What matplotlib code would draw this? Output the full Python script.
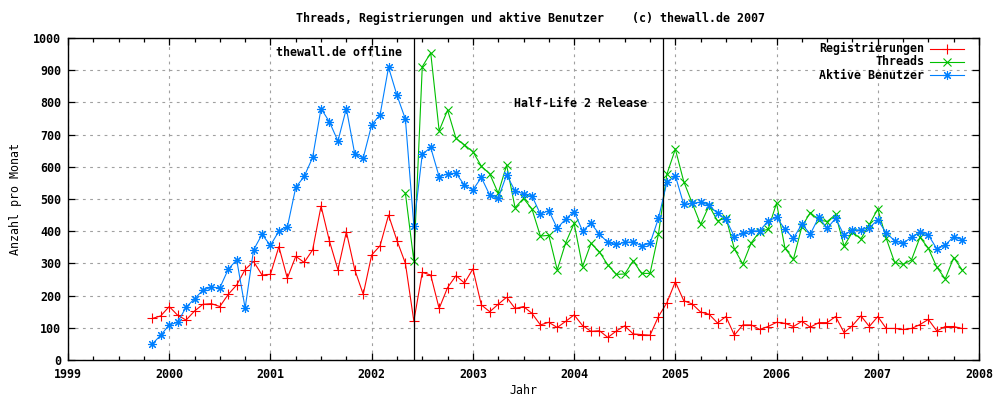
import numpy as np
import pandas as pd
import matplotlib
matplotlib.use("Agg")
from matplotlib import pyplot as plt
from matplotlib.lines import Line2D

# monthly values, Nov 1999 .. Nov 2007
months = pd.period_range("1999-11", "2007-11", freq="M")

registrierungen = [
    129, 137,
    166, 139, 124, 152, 173, 175, 166, 204, 233, 281, 306, 264,
    266, 352, 254, 322, 303, 342, 478, 369, 280, 398, 280, 204,
    326, 355, 450, 371, 300, 121, 272, 264, 160, 225, 262, 239,
    283, 171, 150, 173, 195, 160, 166, 145, 109, 117, 101, 120,
    140, 107, 89, 91, 70, 90, 106, 81, 79, 77, 135, 178,
    243, 184, 174, 149, 142, 115, 135, 77, 109, 109, 95, 104,
    117, 114, 104, 120, 102, 116, 116, 135, 85, 107, 137, 104,
    135, 98, 98, 95, 98, 110, 126, 90, 104, 104, 98,
]

threads = [np.nan] * 30 + [
    518, 308, 911, 954, 712, 776, 688, 668,
    647, 602, 578, 518, 605, 473, 502, 469, 385, 387, 280, 364,
    424, 290, 362, 336, 295, 266, 267, 308, 269, 269, 391, 577,
    655, 554, 487, 421, 479, 432, 442, 345, 298, 364, 399, 406,
    487, 347, 313, 414, 458, 435, 430, 452, 354, 397, 376, 421,
    469, 378, 303, 297, 311, 381, 347, 288, 252, 318, 280,
]

aktive = [
    50, 77,
    109, 117, 164, 190, 217, 226, 224, 282, 311, 161, 342, 390,
    356, 400, 412, 536, 570, 629, 781, 739, 680, 781, 639, 628,
    730, 762, 909, 822, 748, 417, 639, 660, 569, 578, 580, 543,
    528, 567, 512, 502, 575, 525, 516, 510, 453, 464, 409, 438,
    461, 401, 424, 391, 365, 359, 365, 367, 355, 362, 440, 552,
    572, 483, 487, 490, 481, 455, 437, 383, 393, 401, 401, 432,
    443, 406, 378, 422, 391, 443, 409, 440, 388, 404, 404, 411,
    435, 395, 370, 363, 381, 396, 388, 345, 357, 383, 373,
]

# events (decimal year)
offline_x = 2002 + 5 / 12
hl2_x = 2004.875

x = np.array([p.year + (p.month - 1) / 12 for p in months])

plt.rcParams['font.family'] = ['DejaVu Sans Mono']
plt.rcParams['font.weight'] = 'bold'
plt.rcParams['font.size'] = 8.4

fig = plt.figure(figsize=(10, 4), dpi=100)
ax = fig.add_axes([0.068, 0.1, 0.911, 0.805])

red = '#ff0000'
green = '#00c000'
blue = '#0080ff'
lw = 0.8
ms = 6.5

ax.plot(x, registrierungen, color=red, lw=lw, marker='+', ms=ms, mew=lw, zorder=3)
ax.plot(x, threads, color=green, lw=lw, marker='x', ms=ms * 0.8, mew=lw, zorder=3)
ax.plot(x, aktive, color=blue, lw=lw, marker=(8, 2, 0), ms=ms, mew=lw, zorder=3)

ax.axvline(offline_x, color='black', lw=0.9, zorder=4)
ax.axvline(hl2_x, color='black', lw=0.9, zorder=4)

ax.text(offline_x - 0.12, 956, "thewall.de offline", ha='right', va='center')
ax.text(hl2_x - 0.15, 798, "Half-Life 2 Release", ha='right', va='center')

ax.set_xlim(1999, 2008)
ax.set_ylim(0, 1000)
ax.set_xticks(np.arange(1999, 2009, 1))
ax.set_xticks(np.arange(1999, 2008.01, 0.25), minor=True)
ax.set_yticks(np.arange(0, 1001, 100))
ax.tick_params(which='both', direction='in', top=True, right=True, width=0.9)
ax.tick_params(which='major', length=5, pad=5)
ax.tick_params(which='minor', length=3)
ax.tick_params(axis='x', pad=6)
for s in ax.spines.values():
    s.set_linewidth(1.0)

ax.grid(True, which='major', color='#a0a0a0', lw=0.8, linestyle=(0, (2.5, 4)), zorder=1)

ax.set_xlabel("Jahr", labelpad=2)
ax.set_ylabel("Anzahl pro Monat", labelpad=8)
fig.text(0.53, 0.955, "Threads, Registrierungen und aktive Benutzer    (c) thewall.de 2007",
         ha='center', va='center')

# legend, gnuplot style: text right aligned, sample on the right
labels = ["Registrierungen", "Threads", "Aktive Benutzer"]
styles = [(red, '+', ms), (green, 'x', ms * 0.8), (blue, (8, 2, 0), ms)]
for i, (lab, (c, m, size)) in enumerate(zip(labels, styles)):
    yy = 0.966 - i * 0.0405
    ax.text(0.94, yy, lab, transform=ax.transAxes, ha='right', va='center')
    ax.add_line(Line2D([0.9465, 0.983], [yy, yy], transform=ax.transAxes,
                       color=c, lw=lw, zorder=5))
    ax.add_line(Line2D([0.965], [yy], transform=ax.transAxes, color=c,
                       marker=m, ms=size, mew=lw, zorder=5))

plt.savefig("out.png", dpi=100)
